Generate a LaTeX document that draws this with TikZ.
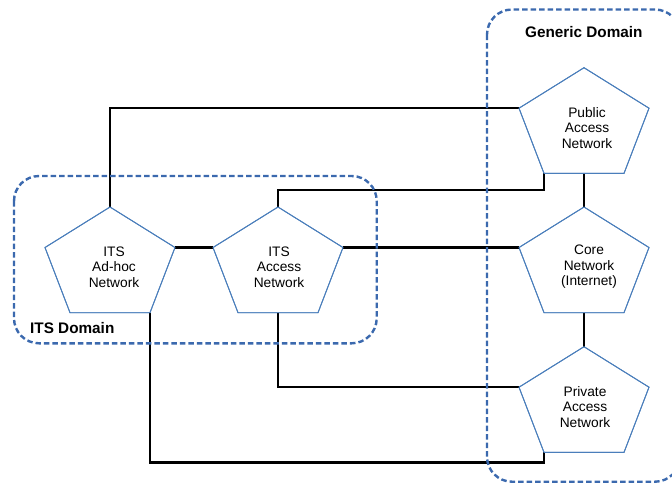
\documentclass[tikz,border=0pt]{standalone}
\usepackage{fontspec}
\setmainfont{Liberation Sans}
\usetikzlibrary{calc}

\definecolor{pentblue}{HTML}{4A7EBB}
\definecolor{domblue}{HTML}{3B69AE}

\tikzset{
  pentedge/.style={draw=pentblue, line width=0.9pt, fill=white},
  nettext/.style={align=center, font=\fontsize{13.75}{15.5}\selectfont, inner sep=0pt},
  link/.style={draw=black, line width=2.5pt, line join=miter},
  domainbox/.style={draw=domblue, line width=2.4pt, dash pattern=on 5.5pt off 3pt, rounded corners=25pt},
  domlabel/.style={anchor=west, font=\fontsize{15.3}{17}\selectfont\bfseries, inner sep=0pt},
}

% Pentagon network element: name, apex x, apex y, label, label x offset
\newcommand{\netpent}[5]{%
  \begin{scope}[shift={(#2,#3)}]
    \coordinate (#1-t)  at (0,0);
    \coordinate (#1-l)  at (-65,40.5);
    \coordinate (#1-r)  at (65,40.5);
    \coordinate (#1-bl) at (-40,105.7);
    \coordinate (#1-br) at (40,105.7);
    \coordinate (#1-b)  at (0,105.7);
    \path[pentedge] (#1-t) -- (#1-r) -- (#1-br) -- (#1-bl) -- (#1-l) -- cycle;
    \node[nettext] (#1) at (#5,60) {#4};
  \end{scope}}

\begin{document}
\begin{tikzpicture}[x=1pt, y=-1pt]
  \useasboundingbox (0,0) rectangle (672,483);

  % network elements
  \netpent{adhoc}{110}{207}{ITS\\Ad-hoc\\Network}{4}
  \netpent{acc}{278}{207}{ITS\\Access\\Network}{1}
  \netpent{pub}{584}{67.7}{Public\\Access\\Network}{3}
  \netpent{core}{584}{207}{Core\\Network\\(Internet)}{5}
  \netpent{priv}{584}{346.7}{Private\\Access\\Network}{1}

  % connections between elements
  \draw[link] (adhoc-t) |- (pub-l);
  \draw[link] (acc-t) -- (acc-t |- 0,190) -| (pub-bl);
  \draw[link] (adhoc-r) -- (acc-l);
  \draw[link] (acc-r) -- (core-l);
  \draw[link] (acc-b) |- (priv-l);
  \draw[link] (adhoc-br) -- (adhoc-br |- 0,462.7) -| (priv-bl);
  \draw[link] (pub-b) -- (core-t);
  \draw[link] (core-b) -- (priv-t);

  % redraw outlines over the line ends
  \foreach \n in {adhoc,acc,pub,core,priv}{
    \draw[pentblue, line width=0.9pt] (\n-t) -- (\n-r) -- (\n-br) -- (\n-bl) -- (\n-l) -- cycle;
  }

  % domains
  \begin{scope}
    \clip (0,0) rectangle (672,483);
    \draw[domainbox] (14,176) rectangle (376.7,343.3);
    \draw[domainbox] (487,9.5) rectangle (680,481.7);
  \end{scope}
  \node[domlabel] (itsdom) at (30,328) {ITS Domain};
  \node[domlabel] (gendom) at (525,32.5) {Generic Domain};
\end{tikzpicture}
\end{document}
